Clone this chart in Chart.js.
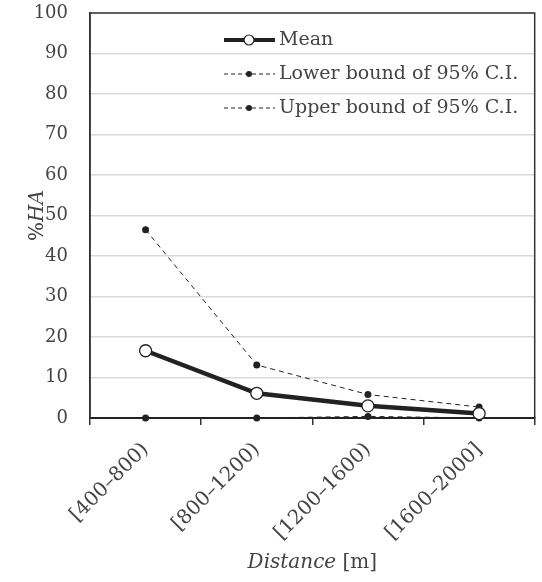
<!DOCTYPE html>
<html>
<head>
<meta charset="utf-8">
<script src="https://cdn.jsdelivr.net/npm/chart.js@4/dist/chart.umd.min.js"></script>
<style>
  html, body { margin: 0; padding: 0; background: #fff; }
  #wrap { width: 542px; height: 582px; }
</style>
</head>
<body>
<div id="wrap"><canvas id="plot" width="542" height="582"></canvas></div>
<script>
// values
const categories = ['[400\u2013800)', '[800\u20131200)', '[1200\u20131600)', '[1600\u20132000]'];
const meanValues = [16.6, 6.1, 3.0, 1.1];
const lowerValues = [0, 0, 0.4, 0];
const upperValues = [46.5, 13.1, 5.8, 2.7];
const seriesNames = ['Mean', 'Lower bound of 95% C.I.', 'Upper bound of 95% C.I.'];

const FONT = '"DejaVu Serif", "Liberation Serif", serif';
const INK = '#222';
const TXT = '#444';

// frame, legend and axis titles (mixed italic) drawn by hand
const decorations = {
    id: 'decorations',
    afterDatasetsDraw(chart) {
        const ctx = chart.ctx;
        const a = chart.chartArea;
        ctx.save();
        ctx.strokeStyle = '#333';
        ctx.lineWidth = 1.5;
        ctx.beginPath();
        ctx.moveTo(a.left, a.bottom);
        ctx.lineTo(a.left, a.top);
        ctx.lineTo(a.right, a.top);
        ctx.lineTo(a.right, a.bottom);
        ctx.stroke();

        // legend
        const rows = [40, 74, 108];
        ctx.font = '19px ' + FONT;
        ctx.textBaseline = 'middle';
        ctx.fillStyle = TXT;
        rows.forEach((y, i) => {
            ctx.strokeStyle = INK;
            if (i === 0) {
                ctx.lineWidth = 4;
                ctx.setLineDash([]);
            } else {
                ctx.lineWidth = 1;
                ctx.setLineDash([4, 3]);
            }
            ctx.beginPath();
            ctx.moveTo(224, y);
            ctx.lineTo(275, y);
            ctx.stroke();
            ctx.setLineDash([]);
            ctx.beginPath();
            if (i === 0) {
                ctx.arc(249, y, 5, 0, Math.PI * 2);
                ctx.fillStyle = '#fff';
                ctx.fill();
                ctx.lineWidth = 1.2;
                ctx.stroke();
            } else {
                ctx.arc(249, y, 3, 0, Math.PI * 2);
                ctx.fillStyle = INK;
                ctx.fill();
            }
            ctx.fillStyle = TXT;
            ctx.textAlign = 'left';
            ctx.fillText(seriesNames[i], 279, y);
        });

        // x title
        const italic = 'italic 20px ' + FONT;
        const plain = '20px ' + FONT;
        ctx.font = italic;
        const w1 = ctx.measureText('Distance').width;
        ctx.font = plain;
        const w2 = ctx.measureText(' [m]').width;
        let x = (a.left + a.right) / 2 - (w1 + w2) / 2;
        ctx.textAlign = 'left';
        ctx.font = italic;
        ctx.fillText('Distance', x, 563);
        ctx.font = plain;
        ctx.fillText(' [m]', x + w1, 563);

        // y title
        ctx.translate(38, (a.top + a.bottom) / 2);
        ctx.rotate(-Math.PI / 2);
        ctx.font = plain;
        const p1 = ctx.measureText('%').width;
        ctx.font = italic;
        const p2 = ctx.measureText('HA').width;
        x = -(p1 + p2) / 2;
        ctx.font = plain;
        ctx.fillText('%', x, 0);
        ctx.font = italic;
        ctx.fillText('HA', x + p1, 0);
        ctx.restore();
    }
};

const chart = new Chart(document.getElementById('plot'), {
    type: 'line',
    data: {
        labels: categories,
        datasets: [{
            label: seriesNames[0],
            data: meanValues,
            borderColor: INK,
            borderWidth: 4.5,
            pointRadius: 6,
            pointBackgroundColor: '#fff',
            pointBorderColor: INK,
            pointBorderWidth: 1.3,
            clip: false
        }, {
            label: seriesNames[1],
            data: lowerValues,
            borderColor: INK,
            borderWidth: 1,
            borderDash: [5, 4],
            pointRadius: 3.5,
            pointBackgroundColor: INK,
            pointBorderWidth: 0,
            clip: false
        }, {
            label: seriesNames[2],
            data: upperValues,
            borderColor: INK,
            borderWidth: 1,
            borderDash: [5, 4],
            pointRadius: 3.5,
            pointBackgroundColor: INK,
            pointBorderWidth: 0,
            clip: false
        }]
    },
    options: {
        responsive: false,
        animation: false,
        layout: { padding: { top: 13, right: -2, left: 0, bottom: 0 } },
        plugins: {
            legend: { display: false },
            tooltip: { enabled: false }
        },
        scales: {
            x: {
                offset: true,
                afterFit: s => { s.height = 164; s.paddingLeft = 0; s.paddingRight = 0; },
                grid: {
                    offset: true,
                    drawOnChartArea: false,
                    drawTicks: true,
                    tickLength: 7,
                    color: '#333',
                    lineWidth: 1.5
                },
                border: { color: '#222', width: 2 },
                ticks: {
                    maxRotation: 45,
                    minRotation: 45,
                    padding: 13,
                    color: TXT,
                    font: { family: FONT, size: 20 }
                }
            },
            y: {
                min: 0,
                max: 100,
                afterFit: s => { s.width = 90; s.paddingTop = 0; s.paddingBottom = 0; },
                grid: {
                    color: '#d9d9d9',
                    lineWidth: 1.5,
                    drawTicks: false
                },
                border: { color: '#333', width: 1.5 },
                ticks: {
                    stepSize: 10,
                    padding: 22,
                    color: TXT,
                    font: { family: FONT, size: 18 }
                }
            }
        }
    },
    plugins: [decorations]
});
</script>
</body>
</html>
